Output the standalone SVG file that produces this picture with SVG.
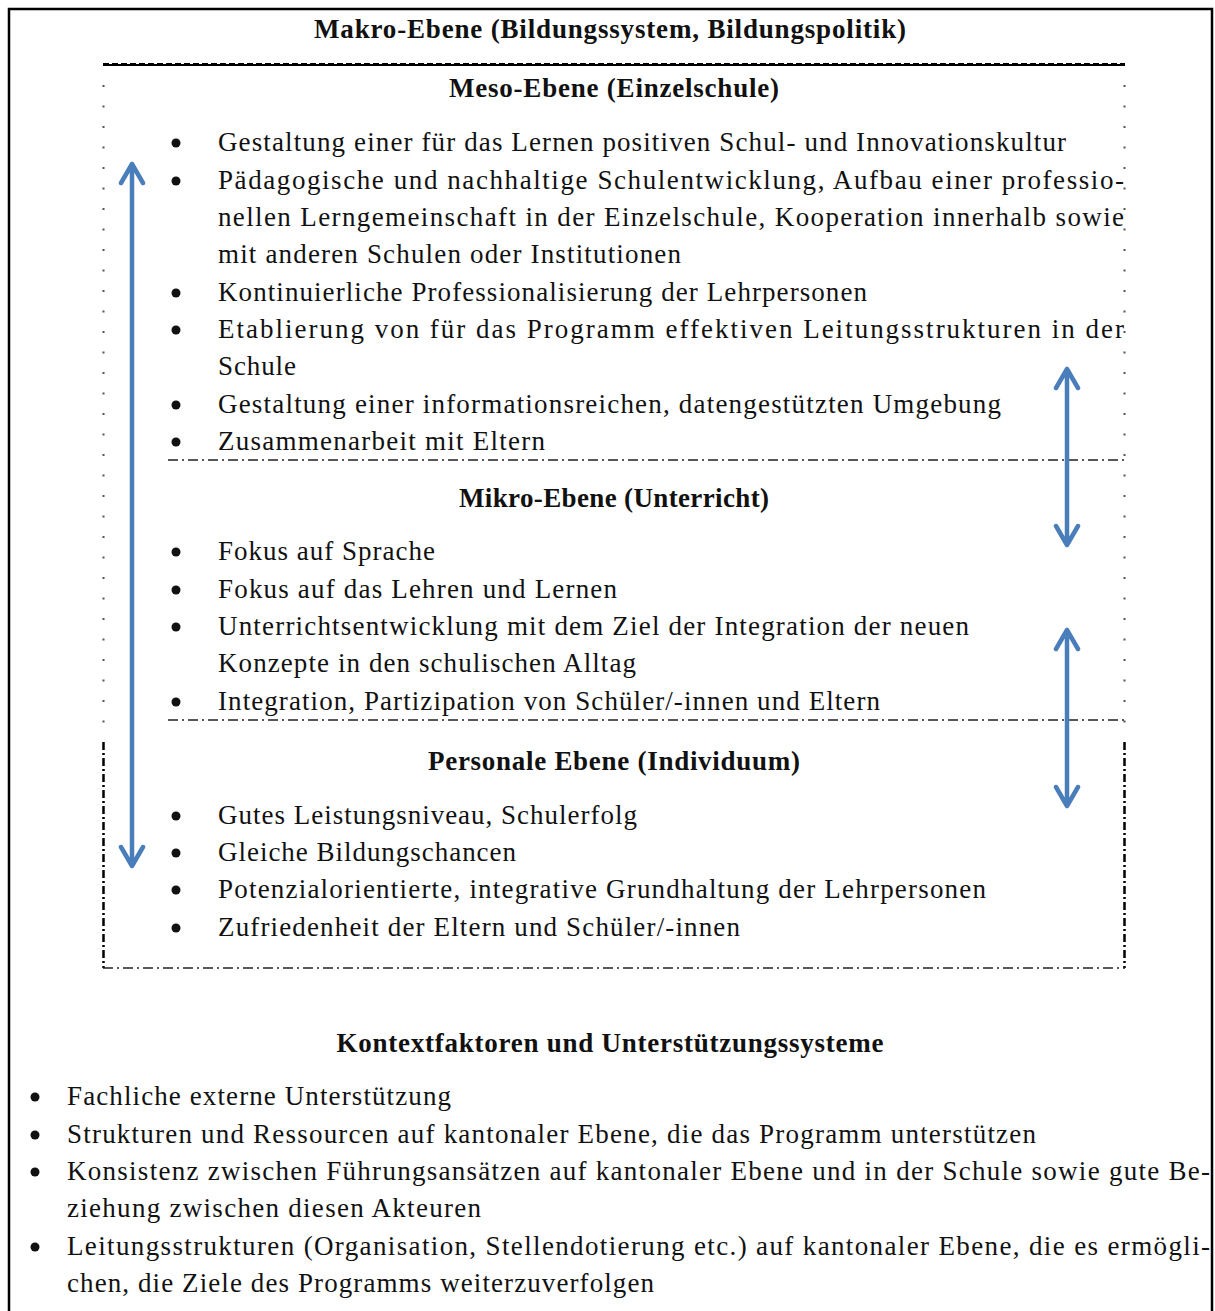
<svg xmlns="http://www.w3.org/2000/svg" width="1215" height="1311" viewBox="0 0 1215 1311">
<style>
text{font-family:"Liberation Serif","Times New Roman",serif;font-size:27px;fill:#111}
.h{font-weight:bold;text-anchor:middle}
.dd{fill:none;stroke:#222;stroke-width:1.3;stroke-dasharray:10 4 2 4}
.arr{fill:none;stroke:#4A7EBB;stroke-width:4.5;stroke-linecap:round;stroke-linejoin:round}
.b{fill:#111}
</style>
<rect width="1215" height="1311" fill="#fff"/>
<g id="frame">
<path d="M9,1311 V9 H1212 V1311" fill="none" stroke="#000" stroke-width="2.5"/>
</g>
<g id="makro">
<text class="h" x="610" y="38" textLength="592" lengthAdjust="spacing">Makro-Ebene (Bildungssystem, Bildungspolitik)</text>
</g>
<g id="box">
<line x1="103" y1="65" x2="1125" y2="65" stroke="#000" stroke-width="2"/>
<line x1="103" y1="63.5" x2="1125" y2="63.5" stroke="#000" stroke-width="1.2" stroke-dasharray="6 3"/>
<line x1="103.5" y1="85" x2="103.5" y2="740" stroke="#555" stroke-width="2" stroke-dasharray="2 18.5"/>
<line x1="1124.5" y1="85" x2="1124.5" y2="740" stroke="#555" stroke-width="2" stroke-dasharray="2 18.5"/>
<line x1="103.5" y1="742" x2="103.5" y2="968" stroke="#000" stroke-width="2.5" stroke-dasharray="8 3 2 3"/>
<line x1="1124.5" y1="742" x2="1124.5" y2="968" stroke="#000" stroke-width="2.5" stroke-dasharray="8 3 2 3"/>
<line class="dd" x1="103" y1="968" x2="1125" y2="968"/>
<line class="dd" x1="168" y1="460" x2="1125" y2="460"/>
<line class="dd" x1="168" y1="720" x2="1125" y2="720"/>
</g>
<g id="meso">
<text class="h" x="614" y="97" textLength="330" lengthAdjust="spacing">Meso-Ebene (Einzelschule)</text>
<circle class="b" cx="176" cy="143" r="4.5"/>
<circle class="b" cx="176" cy="181" r="4.5"/>
<circle class="b" cx="176" cy="293" r="4.5"/>
<circle class="b" cx="176" cy="330" r="4.5"/>
<circle class="b" cx="176" cy="405" r="4.5"/>
<circle class="b" cx="176" cy="442" r="4.5"/>
<text x="218" y="151" textLength="848" lengthAdjust="spacing">Gestaltung einer für das Lernen positiven Schul- und Innovationskultur</text>
<text x="218" y="189" textLength="906" lengthAdjust="spacing">Pädagogische und nachhaltige Schulentwicklung, Aufbau einer professio-</text>
<text x="218" y="226" textLength="906" lengthAdjust="spacing">nellen Lerngemeinschaft in der Einzelschule, Kooperation innerhalb sowie</text>
<text x="218" y="263" textLength="463" lengthAdjust="spacing">mit anderen Schulen oder Institutionen</text>
<text x="218" y="301" textLength="649" lengthAdjust="spacing">Kontinuierliche Professionalisierung der Lehrpersonen</text>
<text x="218" y="338" textLength="906" lengthAdjust="spacing">Etablierung von für das Programm effektiven Leitungsstrukturen in der</text>
<text x="218" y="375" textLength="78" lengthAdjust="spacing">Schule</text>
<text x="218" y="413" textLength="783" lengthAdjust="spacing">Gestaltung einer informationsreichen, datengestützten Umgebung</text>
<text x="218" y="450" textLength="327" lengthAdjust="spacing">Zusammenarbeit mit Eltern</text>
</g>
<g id="mikro">
<text class="h" x="614" y="507" textLength="310" lengthAdjust="spacing">Mikro-Ebene (Unterricht)</text>
<circle class="b" cx="176" cy="552" r="4.5"/>
<circle class="b" cx="176" cy="590" r="4.5"/>
<circle class="b" cx="176" cy="627" r="4.5"/>
<circle class="b" cx="176" cy="702" r="4.5"/>
<text x="218" y="560" textLength="217" lengthAdjust="spacing">Fokus auf Sprache</text>
<text x="218" y="598" textLength="399" lengthAdjust="spacing">Fokus auf das Lehren und Lernen</text>
<text x="218" y="635" textLength="751" lengthAdjust="spacing">Unterrichtsentwicklung mit dem Ziel der Integration der neuen</text>
<text x="218" y="672" textLength="418" lengthAdjust="spacing">Konzepte in den schulischen Alltag</text>
<text x="218" y="710" textLength="662" lengthAdjust="spacing">Integration, Partizipation von Schüler/-innen und Eltern</text>
</g>
<g id="personal">
<text class="h" x="614" y="770" textLength="372" lengthAdjust="spacing">Personale Ebene (Individuum)</text>
<circle class="b" cx="176" cy="816" r="4.5"/>
<circle class="b" cx="176" cy="853" r="4.5"/>
<circle class="b" cx="176" cy="890" r="4.5"/>
<circle class="b" cx="176" cy="928" r="4.5"/>
<text x="218" y="824" textLength="419" lengthAdjust="spacing">Gutes Leistungsniveau, Schulerfolg</text>
<text x="218" y="861" textLength="298" lengthAdjust="spacing">Gleiche Bildungschancen</text>
<text x="218" y="898" textLength="768" lengthAdjust="spacing">Potenzialorientierte, integrative Grundhaltung der Lehrpersonen</text>
<text x="218" y="936" textLength="522" lengthAdjust="spacing">Zufriedenheit der Eltern und Schüler/-innen</text>
</g>
<g id="kontext">
<text class="h" x="610" y="1052" textLength="547" lengthAdjust="spacing">Kontextfaktoren und Unterstützungssysteme</text>
<circle class="b" cx="35" cy="1097" r="4.5"/>
<circle class="b" cx="35" cy="1135" r="4.5"/>
<circle class="b" cx="35" cy="1172" r="4.5"/>
<circle class="b" cx="35" cy="1247" r="4.5"/>
<text x="67" y="1105" textLength="384" lengthAdjust="spacing">Fachliche externe Unterstützung</text>
<text x="67" y="1143" textLength="969" lengthAdjust="spacing">Strukturen und Ressourcen auf kantonaler Ebene, die das Programm unterstützen</text>
<text x="67" y="1180" textLength="1143" lengthAdjust="spacing">Konsistenz zwischen Führungsansätzen auf kantonaler Ebene und in der Schule sowie gute Be-</text>
<text x="67" y="1217" textLength="414" lengthAdjust="spacing">ziehung zwischen diesen Akteuren</text>
<text x="67" y="1255" textLength="1143" lengthAdjust="spacing">Leitungsstrukturen (Organisation, Stellendotierung etc.) auf kantonaler Ebene, die es ermögli-</text>
<text x="67" y="1292" textLength="587" lengthAdjust="spacing">chen, die Ziele des Programms weiterzuverfolgen</text>
</g>
<g id="connectors">
<path class="arr" d="M132,164 V866 M121,183 L132,164 L143,183 M121,847 L132,866 L143,847"/>
<path class="arr" d="M1067,369 V545 M1056,388 L1067,369 L1078,388 M1056,526 L1067,545 L1078,526"/>
<path class="arr" d="M1067,630 V806 M1056,649 L1067,630 L1078,649 M1056,787 L1067,806 L1078,787"/>
</g>
</svg>
